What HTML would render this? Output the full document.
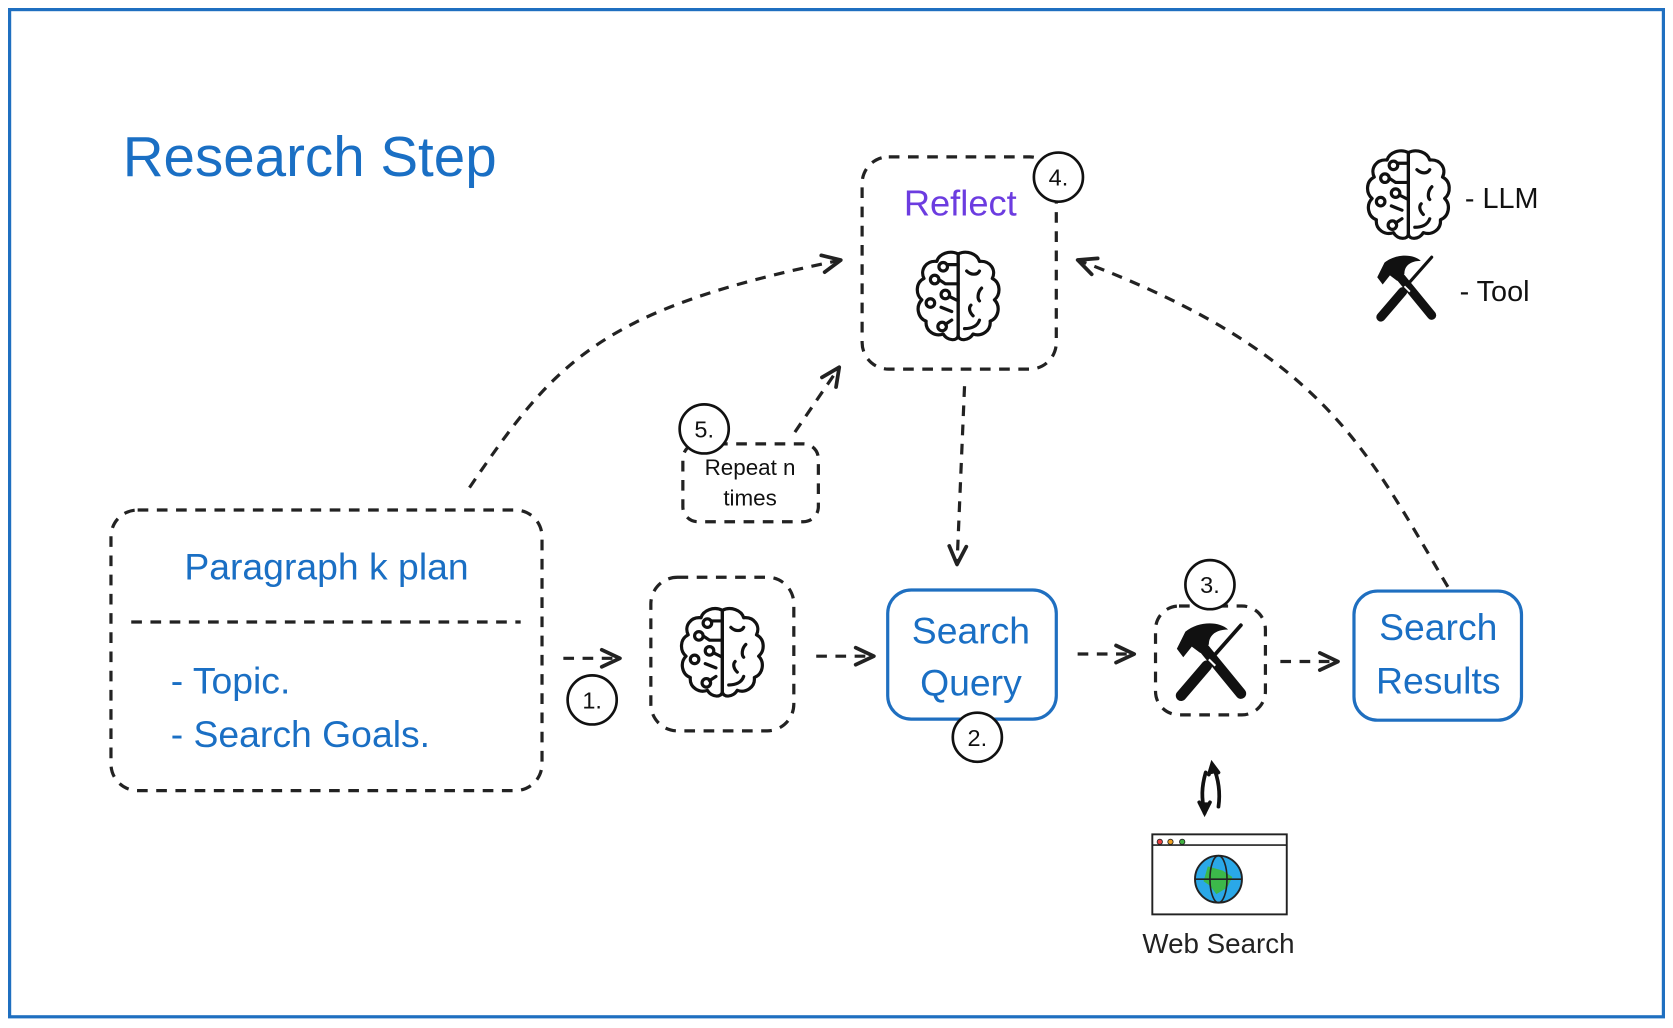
<!DOCTYPE html>
<html><head><meta charset="utf-8"><style>
html,body{margin:0;padding:0;background:#fff;}
svg{display:block;}
text{font-family:"Liberation Sans",sans-serif;}
</style></head><body>
<svg width="1673" height="1028" viewBox="0 0 1568 963.5" preserveAspectRatio="none" xmlns="http://www.w3.org/2000/svg">
<defs>
<g id="brain" fill="none" stroke="#111" stroke-width="3" stroke-linecap="round" stroke-linejoin="round">
  <path d="M0,-40 C-8,-44 -18,-40 -20,-33 C-30,-34 -36,-25 -32,-17 C-40,-13 -40,-2 -34,3 C-40,9 -38,20 -30,23 C-31,32 -22,38 -14,35 C-10,42 0,42 0,36 Z"/>
  <path d="M0,-40 C8,-44 18,-40 20,-33 C30,-34 36,-25 32,-17 C40,-13 40,-2 34,3 C40,9 38,20 30,23 C31,32 22,38 14,35 C10,42 0,42 0,36 Z"/>
  <path d="M0,-30 L-10,-30"/><circle cx="-14" cy="-28" r="4"/>
  <path d="M0,-12 L-12,-12 L-18,-16"/><circle cx="-22" cy="-16" r="4"/>
  <path d="M0,4 L-8,0"/><circle cx="-12" cy="-2" r="4"/>
  <path d="M-6,14 L-16,10"/><circle cx="-26" cy="6" r="4"/>
  <path d="M-6,22 L-12,26"/><circle cx="-15" cy="28" r="4"/>
  <path d="M8,-24 C12,-20 18,-20 20,-24"/>
  <path d="M22,-8 C18,-4 18,2 20,4"/>
  <path d="M14,18 C10,14 10,10 12,8"/>
  <path d="M6,30 C12,30 18,28 20,22"/>
</g>
<g id="tool">
  <path d="M-8,-14 L28,30" stroke="#111" stroke-width="10" stroke-linecap="round"/>
  <path d="M-32,-12 L-24,-28 C-12,-38 8,-38 16,-30 C4,-30 -2,-24 -2,-16 L-10,-8 L-18,-14 L-26,-4 Z" fill="#111"/>
  <path d="M28,-34 L-2,0" stroke="#111" stroke-width="3.5" stroke-linecap="round"/>
  <path d="M-4,4 L-28,32" stroke="#111" stroke-width="10" stroke-linecap="round"/>
  <path d="M-2,-2 L4,4" stroke="#fff" stroke-width="2"/>
</g>
<marker id="ah" viewBox="0 0 22 22" refX="18" refY="11" markerWidth="22" markerHeight="22" markerUnits="userSpaceOnUse" orient="auto">
  <path d="M2,3 L19,11 L2,19" fill="none" stroke="#222" stroke-width="3.5" stroke-linecap="round" stroke-linejoin="round"/>
</marker>
</defs>
<rect x="9" y="9" width="1550" height="944" fill="none" stroke="#1f6fc0" stroke-width="3"/>
<text x="115" y="165" font-size="53" fill="#1a6fc4">Research Step</text>

<g fill="none" stroke="#222" stroke-width="3" stroke-dasharray="10,8">
  <rect x="808" y="147" width="182" height="199" rx="25"/>
  <rect x="104" y="478" width="404" height="263" rx="25"/>
  <line x1="123" y1="583" x2="488" y2="583"/>
  <rect x="610" y="541" width="134" height="144" rx="25"/>
  <rect x="1083" y="568" width="103" height="102" rx="22"/>
  <rect x="640" y="416" width="127" height="73" rx="14"/>
  <path d="M528,617 L580,617" marker-end="url(#ah)"/>
  <path d="M765,615 L818,615" marker-end="url(#ah)"/>
  <path d="M1010,613 L1062,613" marker-end="url(#ah)"/>
  <path d="M1200,620 L1253,620" marker-end="url(#ah)"/>
  <path d="M745,405 L786,345" marker-end="url(#ah)"/>
  <path d="M440,457 C520,340 560,290 787,244" marker-end="url(#ah)"/>
  <path d="M1357,550 C1280,420 1240,330 1011,244" marker-end="url(#ah)"/>
  <path d="M904,362 L897,528" marker-end="url(#ah)"/>
</g>

<text x="900" y="202" font-size="34" fill="#6c3ce0" text-anchor="middle">Reflect</text>
<use href="#brain" x="898" y="278"/>
<use href="#brain" x="677" y="612"/>
<use href="#brain" x="1320" y="183"/>
<use href="#tool" x="1135" y="620"/>
<g transform="translate(1318,270) scale(0.85)"><use href="#tool"/></g>
<text x="1373" y="195" font-size="27" fill="#111">- LLM</text>
<text x="1368" y="282" font-size="27" fill="#111">- Tool</text>

<g fill="#fff" stroke="#111" stroke-width="2.5">
  <circle cx="992" cy="166" r="23"/><circle cx="555" cy="656" r="23"/>
  <circle cx="1134" cy="548" r="23"/>
  <circle cx="660" cy="402" r="23"/>
</g>
<g font-size="22" fill="#111" text-anchor="middle">
  <text x="992" y="174">4.</text><text x="555" y="664">1.</text>
  <text x="1134" y="556">3.</text>
  <text x="660" y="410">5.</text>
</g>

<text x="306" y="543" font-size="35" fill="#1a6fc4" text-anchor="middle">Paragraph k plan</text>
<text x="160" y="650" font-size="35" fill="#1a6fc4">- Topic.</text>
<text x="160" y="700" font-size="35" fill="#1a6fc4">- Search Goals.</text>

<text x="703" y="445" font-size="21" fill="#111" text-anchor="middle">Repeat n</text>
<text x="703" y="474" font-size="21" fill="#111" text-anchor="middle">times</text>

<rect x="832" y="553" width="158" height="121" rx="22" fill="#fff" stroke="#1f6fc0" stroke-width="3"/>
<text x="910" y="603" font-size="35" fill="#1a6fc4" text-anchor="middle">Search</text>
<text x="910" y="652" font-size="35" fill="#1a6fc4" text-anchor="middle">Query</text>
<circle cx="916" cy="691" r="23" fill="#fff" stroke="#111" stroke-width="2.5"/>
<text x="916" y="699" font-size="22" fill="#111" text-anchor="middle">2.</text>

<rect x="1269" y="554" width="157" height="121" rx="22" fill="#fff" stroke="#1f6fc0" stroke-width="3"/>
<text x="1348" y="600" font-size="35" fill="#1a6fc4" text-anchor="middle">Search</text>
<text x="1348" y="650" font-size="35" fill="#1a6fc4" text-anchor="middle">Results</text>

<g fill="none" stroke="#111" stroke-width="3.5" stroke-linecap="round">
  <path d="M1129,762 C1126,748 1126,738 1130,724"/>
  <path d="M1124,752 L1129,762 L1134,752" fill="#111"/>
  <path d="M1142,756 C1144,742 1142,730 1137,718"/>
  <path d="M1133,726 L1136,716 L1142,724" fill="#111"/>
</g>

<rect x="1080" y="782" width="126" height="75" fill="#fff" stroke="#222" stroke-width="1.8"/>
<line x1="1080" y1="792" x2="1206" y2="792" stroke="#222" stroke-width="1.5"/>
<circle cx="1087" cy="789" r="2.5" fill="#e84040" stroke="#222" stroke-width="0.8"/>
<circle cx="1097" cy="789" r="2.5" fill="#f0a020" stroke="#222" stroke-width="0.8"/>
<circle cx="1108" cy="789" r="2.5" fill="#40b040" stroke="#222" stroke-width="0.8"/>
<circle cx="1142" cy="824" r="22" fill="#2aa8e8" stroke="#222" stroke-width="1.8"/>
<path d="M1132,812 L1146,816 L1155,822 L1150,832 L1140,838 L1134,830 L1128,826 Z" fill="#3cb84a"/>
<ellipse cx="1142" cy="824" rx="8" ry="22" fill="none" stroke="#222" stroke-width="1.5"/>
<line x1="1120" y1="824" x2="1164" y2="824" stroke="#222" stroke-width="1.5"/>
<text x="1142" y="893" font-size="26" fill="#222" text-anchor="middle">Web Search</text>
</svg>
</body></html>
